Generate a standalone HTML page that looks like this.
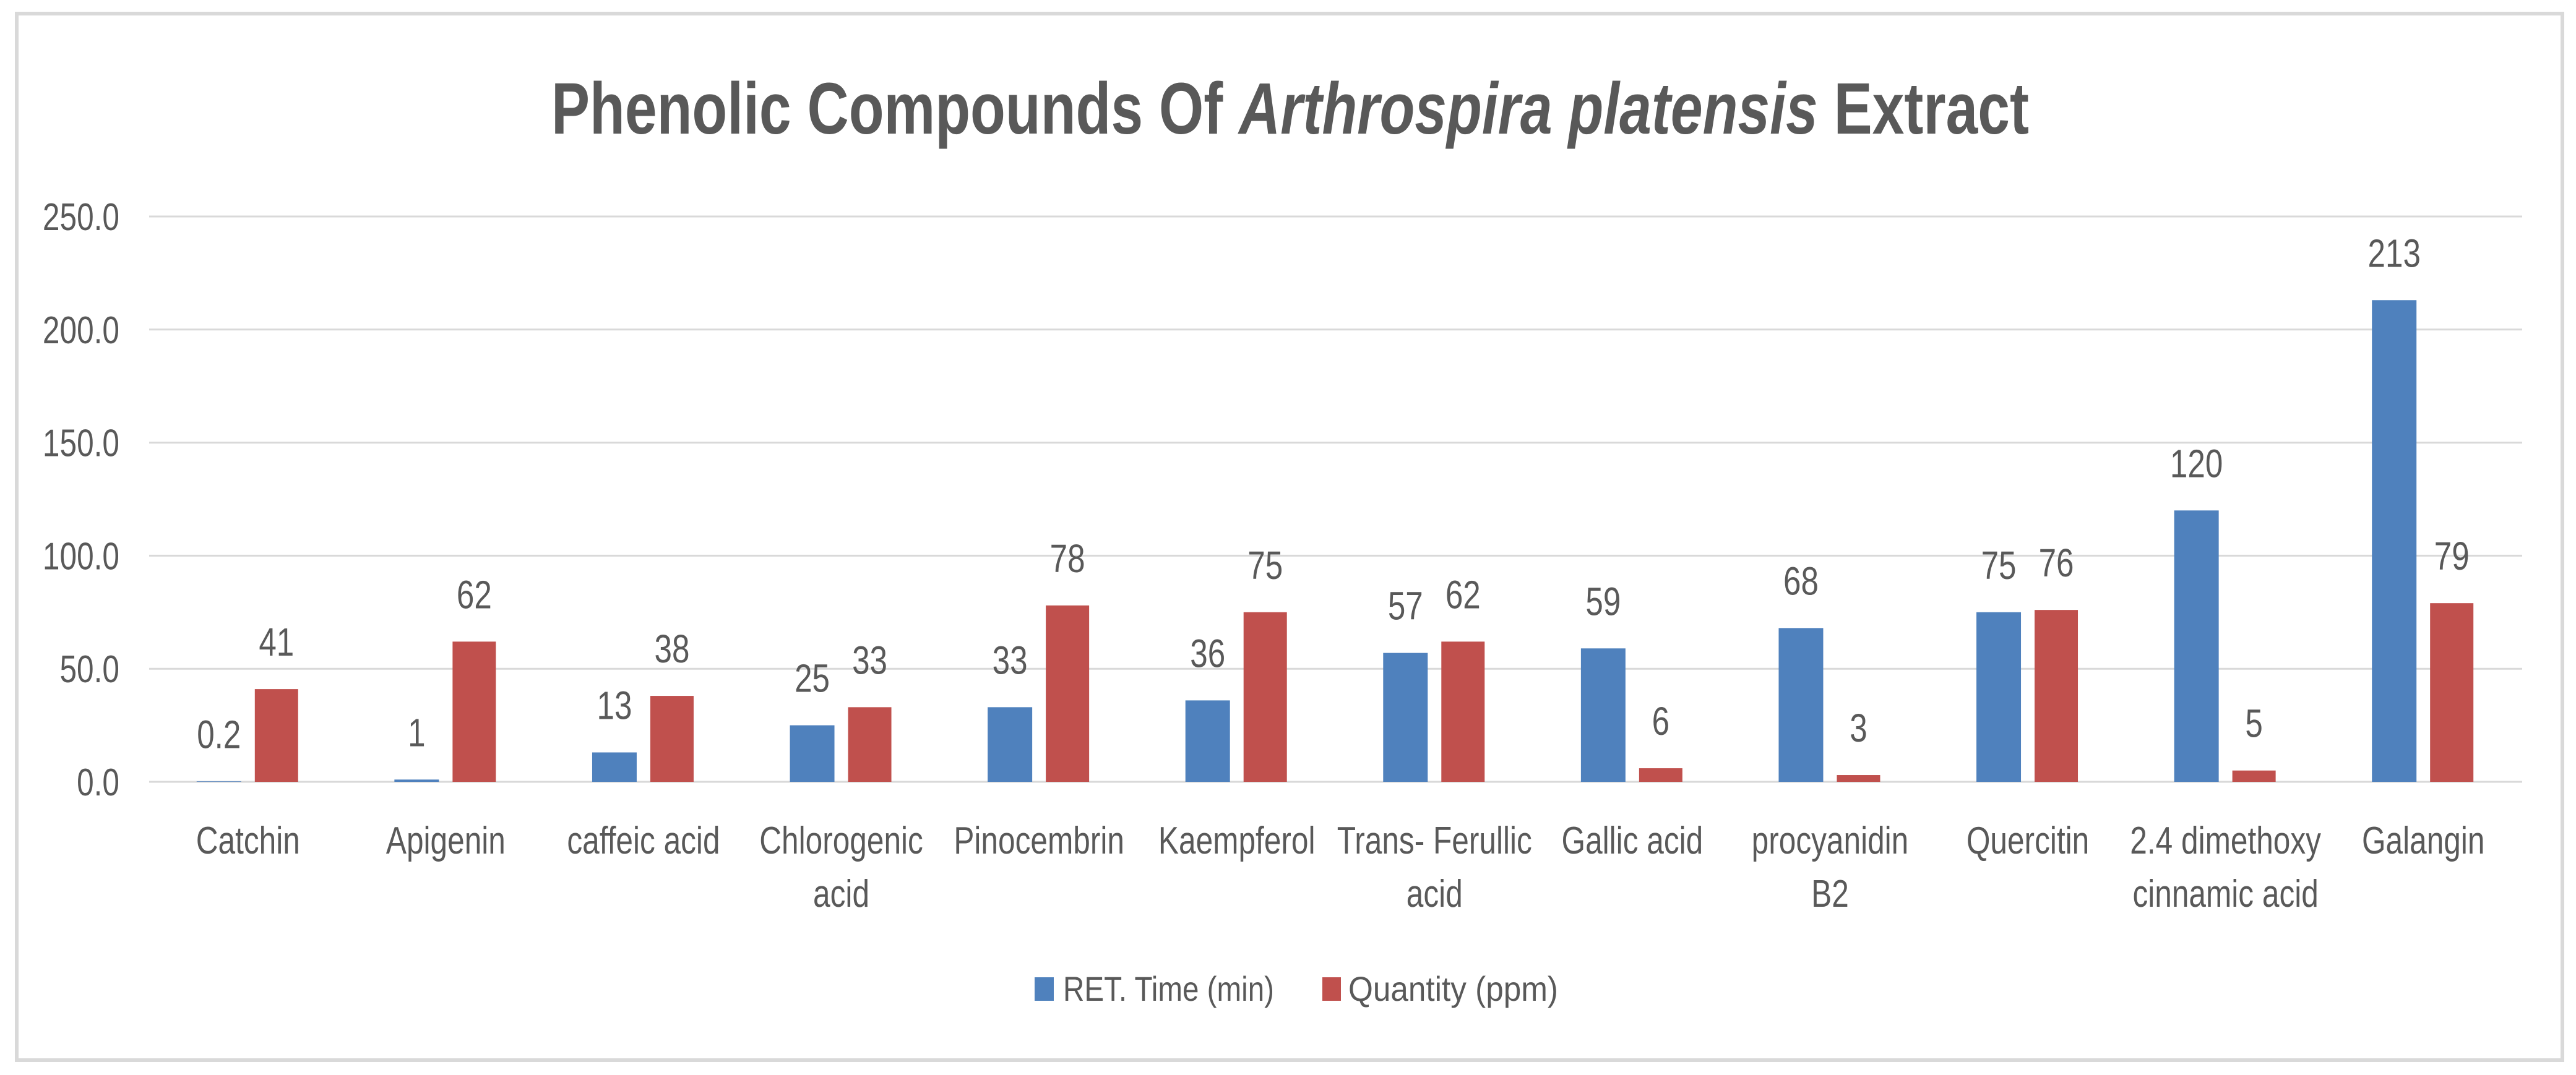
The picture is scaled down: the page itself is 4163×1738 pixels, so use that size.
<!DOCTYPE html>
<html><head><meta charset="utf-8"><style>
html,body{margin:0;padding:0;background:#fff;}
svg{display:block;}
text{font-family:"Liberation Sans",sans-serif;fill:#595959;}
</style></head><body>
<svg id="chart" width="4163" height="1738" viewBox="0 0 4163 1738" xmlns="http://www.w3.org/2000/svg">
<rect x="27" y="22" width="4114" height="1692" fill="#fff" stroke="#d9d9d9" stroke-width="6"/>
<text x="2085" y="216" text-anchor="middle" font-size="118" font-weight="bold" textLength="2388" lengthAdjust="spacingAndGlyphs">Phenolic Compounds Of <tspan font-style="italic">Arthrospira platensis</tspan> Extract</text>
<g id="grid"></g><g id="bars"></g><g id="labels"></g>
<g>
<rect x="1672" y="1580" width="31" height="38" fill="#4f81bd"/>
<text x="1718" y="1618" font-size="56" textLength="341" lengthAdjust="spacingAndGlyphs">RET. Time (min)</text>
<rect x="2137" y="1580" width="30" height="38" fill="#c0504d"/>
<text x="2179" y="1618" font-size="56" textLength="339" lengthAdjust="spacingAndGlyphs">Quantity (ppm)</text>
</g>
</svg>
<script>
const categories = [["Catchin"],["Apigenin"],["caffeic acid"],["Chlorogenic","acid"],["Pinocembrin"],["Kaempferol"],["Trans- Ferullic","acid"],["Gallic acid"],["procyanidin","B2"],["Quercitin"],["2.4 dimethoxy","cinnamic acid"],["Galangin"]];
const retTime = [0.2, 1, 13, 25, 33, 36, 57, 59, 68, 75, 120, 213];
const quantity = [41, 62, 38, 33, 78, 75, 62, 6, 3, 76, 5, 79];
const retLabels = ["0.2","1","13","25","33","36","57","59","68","75","120","213"];
const qtyLabels = ["41","62","38","33","78","75","62","6","3","76","5","79"];
const yTicks = [0, 50, 100, 150, 200, 250];
const yTickLabels = ["0.0","50.0","100.0","150.0","200.0","250.0"];

const NS = "http://www.w3.org/2000/svg";
const X0 = 241, X1 = 4076, Y0 = 1264, YTOP = 350, YMAX = 250;
const band = (X1 - X0) / categories.length;
const xCenter = i => X0 + band * (i + 0.5);
const yScale = v => Y0 - (v / YMAX) * (Y0 - YTOP);
const SX = 0.8;

function mk(tag, parent, attrs) {
  const e = document.createElementNS(NS, tag);
  for (const k in attrs) e.setAttribute(k, attrs[k]);
  parent.appendChild(e);
  return e;
}
function txt(parent, x, y, s, size, anchor) {
  const t = mk("text", parent, {transform: `translate(${x},${y}) scale(${SX},1)`, "font-size": size, "text-anchor": anchor});
  t.textContent = s;
  return t;
}
const grid = document.getElementById("grid");
const bars = document.getElementById("bars");
const labels = document.getElementById("labels");

yTicks.forEach((v, i) => {
  const l = mk("line", grid, {x1: X0, x2: X1, y1: yScale(v), y2: yScale(v), stroke: "#d9d9d9", "stroke-width": 3});
  
  
  const t = txt(grid, 193, yScale(v) + 22, yTickLabels[i], 62, "end");
  
  
});

categories.forEach((c, i) => {
  const cx = xCenter(i);
  const b1 = mk("rect", bars, {x: cx - 83, y: yScale(retTime[i]), width: 72, height: Y0 - yScale(retTime[i]), fill: "#4f81bd"});
  
  
  const b2 = mk("rect", bars, {x: cx + 11, y: yScale(quantity[i]), width: 70, height: Y0 - yScale(quantity[i]), fill: "#c0504d"});
  
  
  const l1 = txt(labels, cx - 47, yScale(retTime[i]) - 54, retLabels[i], 64, "middle");
  
  
  const l2 = txt(labels, cx + 46, yScale(quantity[i]) - 54, qtyLabels[i], 64, "middle");
  
  
  c.forEach((line, j) => {
    const t = txt(labels, cx, 1380 + j * 86, line, 62, "middle");
    
    
  });
});
</script>
</body></html>
